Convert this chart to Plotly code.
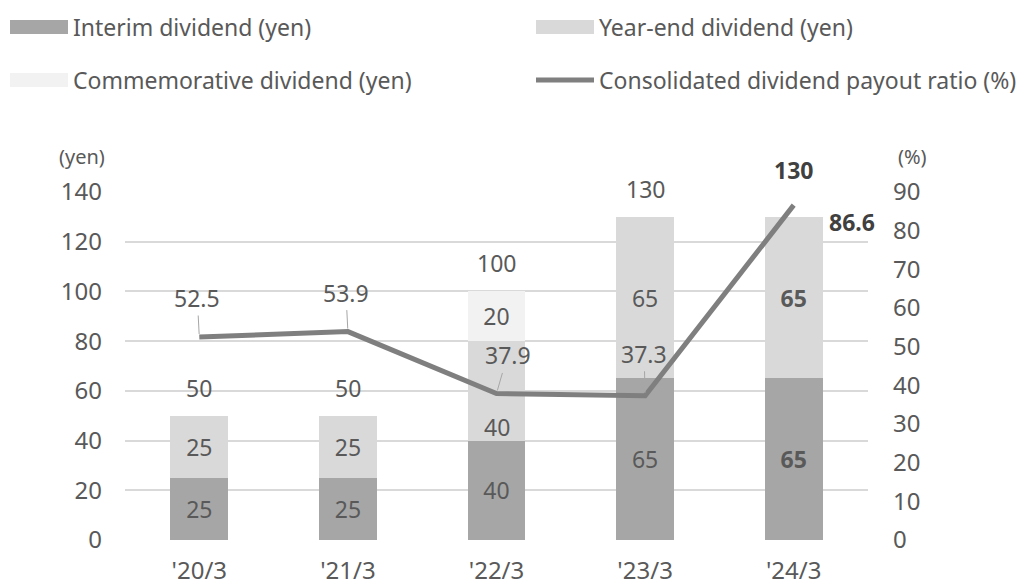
import plotly.graph_objects as go

categories = ["'20/3", "'21/3", "'22/3", "'23/3", "'24/3"]
interim = [25, 25, 40, 65, 65]
year_end = [25, 25, 40, 65, 65]
commemorative = [0, 0, 20, 0, 0]
totals = [50, 50, 100, 130, 130]
payout = [52.5, 53.9, 37.9, 37.3, 86.6]
y_ticks = [0, 20, 40, 60, 80, 100, 120, 140]
y2_ticks = [0, 10, 20, 30, 40, 50, 60, 70, 80, 90]

legend_names = ["Interim dividend (yen)", "Year-end dividend (yen)",
                "Commemorative dividend (yen)", "Consolidated dividend payout ratio (%)"]
unit_left = "(yen)"
unit_right = "(%)"

C_INT = "#a6a6a6"
C_YE = "#d9d9d9"
C_COM = "#f2f2f2"
C_LINE = "#7f7f7f"
TXT = "#595959"
BOLD_TXT = "#404040"
FONT = "Noto Sans"
FS = 23
FS_TICK = 24
FS_LEG = 23

W, H = 1022, 585
ML, MR, MT, MB = 125, 154, 192, 45
PW, PH = W - ML - MR, H - MT - MB


def px(x):
    return (x - ML) / PW


def py(y):
    return (H - MB - y) / PH


last = len(categories) - 1


def fmt(v, i):
    return f"<b>{v}</b>" if i == last else str(v)


def labels(vals, skip=None):
    out = []
    for i, v in enumerate(vals):
        if v == 0 or (skip is not None and skip[i]):
            out.append("")
        else:
            out.append(fmt(v, i))
    return out


# year-end label is moved down to the base of its segment when a commemorative
# segment sits on top (as in the reference)
ye_low = [c > 0 for c in commemorative]

fig = go.Figure()
for vals, col, name, skip in [(interim, C_INT, legend_names[0], None),
                              (year_end, C_YE, legend_names[1], ye_low),
                              (commemorative, C_COM, legend_names[2], None)]:
    fig.add_trace(go.Bar(
        x=categories, y=vals, name=name, marker=dict(color=col, line=dict(width=0)),
        text=labels(vals, skip), textposition="inside", insidetextanchor="middle",
        textangle=0, constraintext="none",
        textfont=dict(family=FONT, size=FS, color=TXT), width=0.39,
        showlegend=False, hoverinfo="skip"))

fig.add_trace(go.Scatter(
    x=categories, y=payout, yaxis="y2", mode="lines", name=legend_names[3],
    line=dict(color=C_LINE, width=5), showlegend=False, hoverinfo="skip"))

annotations = []
for i, c in enumerate(categories):
    if ye_low[i]:
        annotations.append(dict(
            x=c, y=interim[i], xref="x", yref="y", showarrow=False,
            text=fmt(year_end[i], i), yanchor="middle", yshift=14,
            font=dict(family=FONT, size=FS, color=TXT)))

# totals above bars
for i, (c, t) in enumerate(zip(categories, totals)):
    bold = i == last
    annotations.append(dict(
        x=c, y=t, xref="x", yref="y", showarrow=False,
        text=fmt(t, i), yshift=47 if bold else 28,
        bgcolor="white" if bold else None, borderpad=4,
        font=dict(family=FONT, size=FS, color=BOLD_TXT if bold else TXT)))

# payout ratio labels with leader lines
offsets = [(-2, -39), (-2, -39), (11, -38), (-1, -42), (58, 17)]
for i, (c, p) in enumerate(zip(categories, payout)):
    bold = i == last
    ax, ay = offsets[i]
    annotations.append(dict(
        x=c, y=p, xref="x", yref="y2", showarrow=True, arrowhead=0,
        arrowwidth=1, arrowcolor="rgba(0,0,0,0)" if bold else "#a6a6a6",
        ax=ax, ay=ay, standoff=3, text=fmt(p, i),
        font=dict(family=FONT, size=FS, color=BOLD_TXT if bold else TXT)))

# axis unit labels
annotations.append(dict(x=px(82), y=py(157), xref="paper", yref="paper", text=unit_left,
                        xanchor="center", yanchor="middle", showarrow=False,
                        font=dict(family=FONT, size=20, color=TXT)))
annotations.append(dict(x=px(912), y=py(157), xref="paper", yref="paper", text=unit_right,
                        xanchor="center", yanchor="middle", showarrow=False,
                        font=dict(family=FONT, size=20, color=TXT)))

shapes = []
legend_items = [
    (10, 27, C_INT, "bar", legend_names[0]),
    (536, 27, C_YE, "bar", legend_names[1]),
    (10, 80, C_COM, "bar", legend_names[2]),
    (536, 80, C_LINE, "line", legend_names[3]),
]
for x0, yc, col, kind, name in legend_items:
    if kind == "bar":
        shapes.append(dict(type="rect", xref="paper", yref="paper",
                           x0=px(x0), x1=px(x0 + 58), y0=py(yc - 7), y1=py(yc + 7),
                           fillcolor=col, line=dict(width=0)))
    else:
        shapes.append(dict(type="line", xref="paper", yref="paper",
                           x0=px(x0), x1=px(x0 + 58), y0=py(yc), y1=py(yc),
                           line=dict(color=col, width=5)))
    annotations.append(dict(x=px(x0 + 61), y=py(yc), xref="paper", yref="paper",
                            xanchor="left", yanchor="middle", showarrow=False, text=name,
                            font=dict(family=FONT, size=FS_LEG, color=TXT)))

fig.update_layout(
    width=W, height=H, barmode="stack",
    margin=dict(l=ML, r=MR, t=MT, b=MB, autoexpand=False),
    paper_bgcolor="white", plot_bgcolor="white",
    font=dict(family=FONT, size=FS, color=TXT),
    xaxis=dict(type="category", range=[-0.5, 4.5], showgrid=False, showline=False,
               ticks="", ticklabelstandoff=14,
               tickfont=dict(family=FONT, size=FS_TICK, color=TXT)),
    yaxis=dict(range=[0, 140], tickvals=y_ticks, showgrid=True, gridcolor="#d9d9d9",
               gridwidth=1.5, zeroline=False, showline=False, ticks="",
               ticklabelstandoff=22, tickfont=dict(family=FONT, size=FS_TICK, color=TXT)),
    yaxis2=dict(range=[0, 90], tickvals=y2_ticks, overlaying="y", side="right",
                showgrid=False, zeroline=False, showline=False, ticks="",
                ticklabelstandoff=24, tickfont=dict(family=FONT, size=FS_TICK, color=TXT)),
    annotations=annotations, shapes=shapes,
)

fig.write_html("out.html", config={"displayModeBar": False},
               post_script="document.body.style.margin='0';document.body.style.overflow='hidden';")
